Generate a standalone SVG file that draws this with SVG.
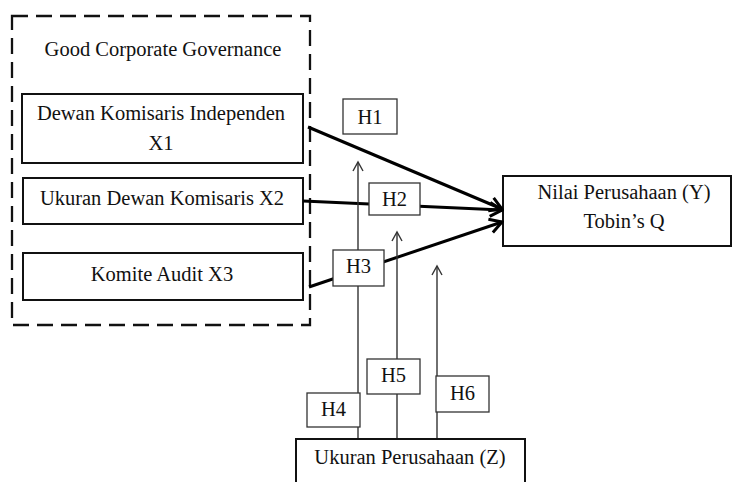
<svg xmlns="http://www.w3.org/2000/svg" width="735" height="482" viewBox="0 0 735 482">
<style>
text{font-family:"Liberation Serif","Times New Roman",serif;font-size:20.5px;fill:#111;text-anchor:middle}
.box{fill:#fff;stroke:#111;stroke-width:2}
.hbox{fill:#fff;stroke:#333;stroke-width:1.3}
.thick{stroke:#000;stroke-width:3;fill:none}
.thin{stroke:#333;stroke-width:1.4;fill:none}
</style>
<defs>
<marker id="ah" markerUnits="userSpaceOnUse" viewBox="-14 -9 16 18" refX="0" refY="0" markerWidth="16" markerHeight="18" orient="auto">
<path d="M-12,-7 L0,0 L-12,7" fill="none" stroke="#000" stroke-width="3"/>
</marker>
<marker id="at" markerUnits="userSpaceOnUse" viewBox="-10 -7 12 14" refX="0" refY="0" markerWidth="12" markerHeight="14" orient="auto">
<path d="M-9,-5 L0,0 L-9,5" fill="none" stroke="#333" stroke-width="1.4"/>
</marker>
</defs>
<g id="gcg">
<rect x="12" y="16" width="298" height="309" fill="none" stroke="#111" stroke-width="2.3" stroke-dasharray="16,8"/>
<text x="163" y="56">Good Corporate Governance</text>
</g>
<g id="x1"><rect class="box" x="22" y="94" width="281" height="69"/><text x="161" y="120">Dewan Komisaris Independen</text><text x="161" y="150">X1</text></g>
<g id="x2"><rect class="box" x="23" y="178" width="280" height="46"/><text x="162" y="205">Ukuran Dewan Komisaris X2</text></g>
<g id="x3"><rect class="box" x="23" y="253" width="280" height="47"/><text x="162" y="281">Komite Audit X3</text></g>
<g id="y"><rect class="box" x="503" y="176" width="228" height="70"/><text x="624" y="199">Nilai Perusahaan (Y)</text><text x="624" y="228">Tobin’s Q</text></g>
<g id="connectors">
<line class="thick" x1="308" y1="127" x2="502" y2="209" marker-end="url(#ah)"/>
<line class="thick" x1="303" y1="201" x2="502" y2="210" marker-end="url(#ah)"/>
<line class="thick" x1="309" y1="287" x2="502" y2="222" marker-end="url(#ah)"/>
<line class="thin" x1="358" y1="439" x2="358" y2="162" marker-end="url(#at)"/>
<line class="thin" x1="397" y1="439" x2="397" y2="232" marker-end="url(#at)"/>
<line class="thin" x1="437" y1="439" x2="437" y2="266" marker-end="url(#at)"/>
</g>
<g id="h1"><rect class="hbox" x="343" y="99" width="54" height="35"/><text x="370" y="124">H1</text></g>
<g id="h2"><rect class="hbox" x="369" y="183" width="51" height="32"/><text x="394.5" y="206">H2</text></g>
<g id="h3"><rect class="hbox" x="333" y="250" width="51" height="36"/><text x="358.5" y="273">H3</text></g>
<g id="h4"><rect class="hbox" x="307" y="393" width="53" height="34"/><text x="333.5" y="416">H4</text></g>
<g id="h5"><rect class="hbox" x="367" y="359" width="53" height="35"/><text x="393.5" y="382">H5</text></g>
<g id="h6"><rect class="hbox" x="436" y="376" width="53" height="36"/><text x="462.5" y="400">H6</text></g>
<g id="z"><rect class="box" x="296" y="439" width="229" height="50"/><text x="410" y="464">Ukuran Perusahaan (Z)</text></g>
</svg>
